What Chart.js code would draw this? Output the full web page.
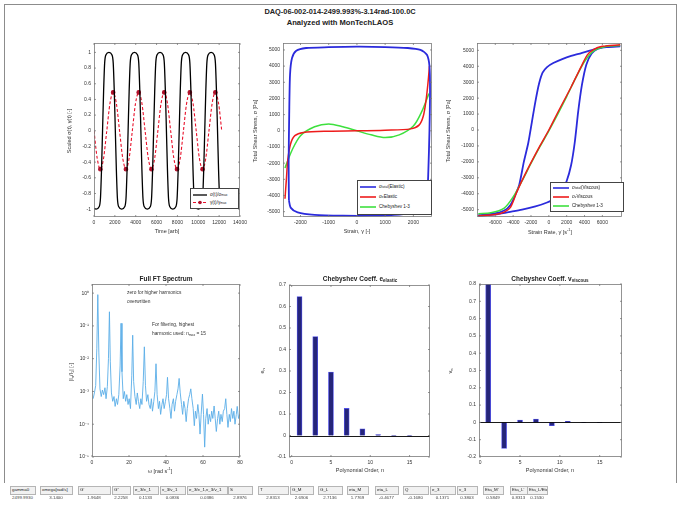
<!DOCTYPE html>
<html>
<head>
<meta charset="utf-8">
<script src="https://cdn.jsdelivr.net/npm/chart.js@4.4.1/dist/chart.umd.min.js"></script>
<style>
  body { margin:0; background:#fff; width:679px; height:506px; position:relative; overflow:hidden;
         font-family:"Liberation Sans", Arial, sans-serif; color:#222; }
  #frame { position:absolute; left:4px; top:4px; width:671px; height:478px; border:1px solid #8c8c8c; border-bottom:none; }
  canvas { position:absolute; }
  .txt { position:absolute; white-space:nowrap; line-height:1; }
  .c { transform:translate(-50%,-50%); }
  .rot { transform:translate(-50%,-50%) rotate(-90deg); }
  .ttl { font-weight:bold; font-size:6.5px; }
  .lab { font-size:5.5px; color:#333; }
  .leg { position:absolute; border:0.8px solid #444; background:#fff; font-size:4.6px; color:#222; }
  .leg .row { position:absolute; left:2px; display:flex; align-items:center; white-space:nowrap; }
  .leg svg { margin-right:3px; }
  sub { font-size:70%; vertical-align:-1px; line-height:0; }
  .cell { position:absolute; font-size:4.4px; white-space:nowrap; overflow:hidden; line-height:1; }
  .hd { border:0.8px solid #b5b5b5; background:#f1f1f1; padding:1px 1px; height:5px; }
</style>
</head>
<body>
<div id="frame"></div>
<div class="txt c ttl" style="left:340px;top:12px;font-size:7.4px">DAQ-06-002-014-2499.993%-3.14rad-100.0C</div>
<div class="txt c ttl" style="left:340px;top:23px;font-size:7.6px">Analyzed with MonTechLAOS</div>

<canvas id="tl"></canvas>
<canvas id="tm"></canvas>
<canvas id="tr"></canvas>
<canvas id="bl"></canvas>
<canvas id="bm"></canvas>
<canvas id="br"></canvas>

<!-- axis titles -->
<div class="txt c lab" style="left:167px;top:232px">Time [arb]</div>
<div class="txt rot lab" style="left:70px;top:131px">Scaled σ(t), γ(t) [-]</div>
<div class="txt c lab" style="left:357px;top:232px">Strain, γ [-]</div>
<div class="txt rot lab" style="left:256px;top:131px">Total Shear Stress, σ [Pa]</div>
<div class="txt c lab" style="left:550px;top:232px">Strain Rate, γ̇ [s<sup style="font-size:70%">-1</sup>]</div>
<div class="txt rot lab" style="left:449px;top:131px">Total Shear Stress, σ [Pa]</div>

<div class="txt c ttl" style="left:166px;top:279px">Full FT Spectrum</div>
<div class="txt c ttl" style="left:360px;top:279px">Chebyshev Coeff. e<sub>elastic</sub></div>
<div class="txt c ttl" style="left:550px;top:279px">Chebyshev Coeff. v<sub>viscous</sub></div>
<div class="txt rot lab" style="left:72px;top:372px">|I<sub>n</sub>/I<sub>1</sub>| [-]</div>
<div class="txt c lab" style="left:160px;top:471px">ω [rad s<sup style="font-size:70%">-1</sup>]</div>
<div class="txt rot lab" style="left:263px;top:371px">e<sub>n</sub></div>
<div class="txt c lab" style="left:360px;top:471px">Polynomial Order, n</div>
<div class="txt rot lab" style="left:451px;top:371px">v<sub>n</sub></div>
<div class="txt c lab" style="left:550px;top:471px">Polynomial Order, n</div>

<!-- annotations in the FT spectrum -->
<div class="txt lab" style="left:127px;top:291px;font-size:4.8px">zero for higher harmonics</div>
<div class="txt lab" style="left:127px;top:300px;font-size:4.8px">overwritten</div>
<div class="txt lab" style="left:152px;top:323px;font-size:4.8px">For filtering, highest</div>
<div class="txt lab" style="left:152px;top:332px;font-size:4.8px">harmonic used: n<sub>max</sub> = 15</div>

<!-- legends -->
<div class="leg" style="left:190px;top:188px;width:47px;height:19px">
  <div class="row" style="top:3px"><svg width="14" height="4"><line x1="0" y1="2" x2="14" y2="2" stroke="#000" stroke-width="1.3"/></svg>σ(t)/σ<sub>max</sub></div>
  <div class="row" style="top:11px"><svg width="14" height="5"><line x1="0" y1="2.5" x2="14" y2="2.5" stroke="#e8102a" stroke-width="1.2" stroke-dasharray="3,2"/><circle cx="7" cy="2.5" r="1.8" fill="#b0102a"/></svg>γ(t)/γ<sub>max</sub></div>
</div>
<div class="leg" style="left:357px;top:180px;width:73px;height:33px">
  <div class="row" style="top:3px"><svg width="16" height="4"><line x1="0" y1="2" x2="16" y2="2" stroke="#2b2bdc" stroke-width="1.6"/></svg>σ<sub>total</sub> (Elastic)</div>
  <div class="row" style="top:13px"><svg width="16" height="4"><line x1="0" y1="2" x2="16" y2="2" stroke="#ee1c1c" stroke-width="1.6"/></svg>σ<sub>e</sub> Elastic</div>
  <div class="row" style="top:23px"><svg width="16" height="4"><line x1="0" y1="2" x2="16" y2="2" stroke="#3ee03e" stroke-width="1.6"/></svg>Chebyshev 1-3</div>
</div>
<div class="leg" style="left:550px;top:182px;width:72px;height:28px">
  <div class="row" style="top:2px"><svg width="16" height="4"><line x1="0" y1="2" x2="16" y2="2" stroke="#2b2bdc" stroke-width="1.6"/></svg>σ<sub>total</sub> (Viscous)</div>
  <div class="row" style="top:11px"><svg width="16" height="4"><line x1="0" y1="2" x2="16" y2="2" stroke="#ee1c1c" stroke-width="1.6"/></svg>σ<sub>v</sub> Viscous</div>
  <div class="row" style="top:20px"><svg width="16" height="4"><line x1="0" y1="2" x2="16" y2="2" stroke="#3ee03e" stroke-width="1.6"/></svg>Chebyshev 1-3</div>
</div>

<div id="table"></div>

<script>
// ---------------------------------------------------------------
//  Dados
// ---------------------------------------------------------------

// painel 1: sinais normalizados no tempo
const timeStress = [0, 208, 490, 620, 720, 820, 920, 1020, 1150, 1432, 1715, 1845, 1945, 2045, 2145, 2245, 2375, 2657,
  2940, 3070, 3170, 3270, 3370, 3470, 3600, 3882, 4165, 4295, 4395, 4495, 4595, 4695, 4825, 5107,
  5390, 5520, 5620, 5720, 5820, 5920, 6050, 6332, 6615, 6745, 6845, 6945, 7045, 7145, 7275, 7557,
  7840, 7970, 8070, 8170, 8270, 8370, 8500, 8782, 9065, 9195, 9295, 9395, 9495, 9595, 9725, 10007,
  10290, 10420, 10520, 10620, 10720, 10820, 10950, 11232, 11515, 11645, 11745, 11845, 11945, 12045, 12175, 12300];
const scaledStress = [-0.99, -1.0, -0.97, -0.86, -0.5, 0, 0.5, 0.86, 0.97, 1.0, 0.97, 0.86, 0.5, 0, -0.5, -0.86, -0.97, -1.0,
  -0.97, -0.86, -0.5, 0, 0.5, 0.86, 0.97, 1.0, 0.97, 0.86, 0.5, 0, -0.5, -0.86, -0.97, -1.0,
  -0.97, -0.86, -0.5, 0, 0.5, 0.86, 0.97, 1.0, 0.97, 0.86, 0.5, 0, -0.5, -0.86, -0.97, -1.0,
  -0.97, -0.86, -0.5, 0, 0.5, 0.86, 0.97, 1.0, 0.97, 0.86, 0.5, 0, -0.5, -0.86, -0.97, -1.0,
  -0.97, -0.86, -0.5, 0, 0.5, 0.86, 0.97, 1.0, 0.97, 0.86, 0.5, 0, -0.5, -0.86, -0.97, -0.99];
const timeStrain = [0, 306, 612, 919, 1225, 1531, 1837, 2144, 2450, 2756, 3062, 3369, 3675, 3981, 4287, 4594,
  4900, 5206, 5512, 5819, 6125, 6431, 6737, 7044, 7350, 7656, 7962, 8269, 8575, 8881, 9187, 9494,
  9800, 10106, 10412, 10719, 11025, 11331, 11637, 11944, 12250];
const scaledStrain = [0, -0.35, -0.49, -0.35, 0, 0.35, 0.49, 0.35, 0, -0.35, -0.49, -0.35, 0, 0.35, 0.49, 0.35,
  0, -0.35, -0.49, -0.35, 0, 0.35, 0.49, 0.35, 0, -0.35, -0.49, -0.35, 0, 0.35, 0.49, 0.35,
  0, -0.35, -0.49, -0.35, 0, 0.35, 0.49, 0.35, 0];

// painel 2: Lissajous elástico (deformação, tensão)
const elStrainTotal = [-2410, -2420, -2400, -2370, -2300, -2150, -1800, -1000, 0, 1000, 1800, 2250, 2480, 2570, 2590,
  2570, 2530, 2490, 2400, 2150, 1500, 500, -500, -1500, -2100, -2350, -2410];
const elStressTotal = [-4300, -2000, 1000, 3500, 4500, 4950, 5120, 5170, 5200, 5180, 5120, 5000, 4700, 4000, 2500,
  0, -2500, -4000, -4650, -5000, -5180, -5250, -5250, -5200, -5050, -4750, -4300];
const elStrainPart = [-2550, -2500, -2450, -2350, -2200, -1900, -1000, 0, 1000, 1900, 2200, 2350, 2450, 2520, 2570];
const elStressPart = [-4200, -3000, -1800, -800, -300, -100, -20, 0, 40, 120, 350, 900, 1900, 3000, 4000];
const elStrainCheb = [-2550, -2300, -2000, -1500, -1000, -500, 0, 500, 1000, 1500, 2000, 2300, 2550];
const elStressCheb = [-2300, -1200, -300, 250, 420, 250, 0, -250, -420, -250, 300, 1200, 2300];

// painel 3: Lissajous viscoso — ramo superior e ramo inferior do laço
const viRateUp = [-7900, -6200, -5000, -4300, -3700, -3300, -2800, -2300, -1900, -1500, -1100, -700, -200, 500, 1500,
  2500, 3500, 4700, 6000, 8000];
const viStressUp = [-5350, -5250, -5050, -4700, -4000, -3400, -2000, -800, 500, 1800, 2900, 3600, 3950, 4200, 4450,
  4650, 4800, 5000, 5200, 5300];
const viRateLow = [-7900, -6000, -4500, -3000, -1500, -200, 700, 1400, 2000, 2500, 2900, 3300, 3700, 4200, 4800,
  5500, 6500, 8000];
const viStressLow = [-5400, -5300, -5150, -5000, -4800, -4550, -4300, -3900, -3200, -2200, -800, 1200, 2800, 4100, 4800,
  5100, 5200, 5250];
const viRatePart = [-7900, -6000, -5000, -4300, -3600, -2500, -1000, 0, 1000, 2500, 3600, 4300, 5000, 6000, 8000];
const viStressPart = [-5400, -5300, -5150, -4850, -3900, -2600, -1000, 0, 1100, 2700, 3950, 4700, 5050, 5250, 5350];
const viRateCheb = [-7900, -6500, -5000, -4000, -3000, -2000, -1000, 0, 1000, 2000, 3000, 4000, 5000, 6500, 8000];
const viStressCheb = [-5250, -5200, -4900, -4200, -3200, -2100, -1050, -50, 1000, 2100, 3250, 4300, 4950, 5250, 5300];

// painel 4: espectro FT
const ftOmega = [0.6, 1.3, 2.0, 2.6, 3.14, 3.7, 4.3, 5.0, 5.6, 6.3, 7.0, 7.6, 8.3, 8.9, 9.42, 9.9, 10.5, 11.2, 11.9,
  12.5, 13.2, 13.8, 14.5, 15.2, 15.7, 16.2, 16.9, 17.5, 18.2, 18.8, 19.5, 20.1, 20.8, 21.5, 22.0, 22.5, 23.2, 23.9,
  24.5, 25.1, 25.8, 26.4, 27.0, 27.7, 28.3, 28.9, 29.5, 30.2, 30.8, 31.5, 32.1, 32.7, 33.4, 34.0, 34.6, 35.2, 35.9,
  36.5, 37.1, 37.8, 38.4, 39.0, 39.7, 40.3, 40.8, 41.4, 42.1, 42.7, 43.3, 44.0, 44.6, 45.2, 45.9, 46.5, 47.1, 47.7,
  48.4, 49.0, 49.6, 50.3, 50.9, 51.5, 52.2, 52.8, 53.4, 54.0, 54.7, 55.3, 55.9, 56.5, 57.2, 57.8, 58.4, 59.0, 59.7,
  60.3, 60.9, 61.5, 62.2, 62.8, 63.4, 64.1, 64.7, 65.3, 66.0, 66.6, 67.2, 67.9, 68.5, 69.1, 69.7, 70.4, 71.0, 71.7,
  72.3, 72.9, 73.5, 74.2, 74.8, 75.4, 76.1, 76.7, 77.3, 78.0, 78.5, 79.2, 79.8];
const ftAmp = [6e-4, 9e-4, 1.5e-3, 0.02, 0.9, 0.015, 1.2e-3, 7e-4, 1.1e-3, 8e-4, 1.3e-3, 6e-4, 1.4e-3, 0.01, 0.27,
  0.008, 9e-4, 5e-4, 7e-4, 3.5e-4, 6e-4, 4e-4, 8e-4, 0.006, 0.12, 0.004, 6e-4, 1.0e-3, 5e-4, 8e-4, 4e-4, 6e-4, 3e-4,
  0.003, 0.052, 0.002, 7e-4, 4e-4, 9e-4, 5e-4, 3e-4, 6e-4, 4e-4, 0.002, 0.023, 0.0015, 5e-4, 8e-4, 4e-4, 3e-4, 6e-4,
  2.5e-4, 5e-4, 0.001, 0.007, 8e-4, 3e-4, 5e-4, 2e-4, 4e-4, 6e-4, 3e-4, 5e-4, 8e-4, 0.0027, 6e-4, 3e-4, 1.5e-4, 4e-4,
  6e-4, 2.5e-4, 5e-4, 8e-4, 1.2e-3, 0.0025, 9e-4, 4e-4, 2e-4, 5e-4, 3e-4, 1.2e-4, 3e-4, 6e-4, 8e-4, 0.0012, 6e-4,
  3e-4, 9e-5, 2.5e-4, 1.5e-4, 4e-4, 2e-4, 5e-5, 2e-4, 8.3e-4, 2e-4, 2e-5, 1.5e-4, 3e-4, 1e-4, 2e-4, 1.2e-4, 2.5e-4,
  1.5e-4, 3.6e-4, 1.5e-4, 6e-5, 1.5e-4, 2.5e-4, 1e-4, 2e-4, 1.2e-4, 2.5e-4, 3e-4, 6e-4, 2e-4, 8e-5, 2e-4, 1.2e-4,
  3e-4, 1.5e-4, 2.5e-4, 1e-4, 2e-4, 3.5e-4, 1.5e-4, 2e-4];

// painéis 5 e 6: coeficientes de Chebyshev
const polyOrder = [1, 3, 5, 7, 9, 11, 13, 15];
const elasticCoeff = [0.646, 0.46, 0.295, 0.126, 0.031, 0.004, -0.003, -0.003];
const viscousCoeff = [0.80, -0.151, 0.014, 0.019, -0.019, 0.006, -0.002, 0.001];

// ticks
const tlXTicks = [0, 2000, 4000, 6000, 8000, 10000, 12000, 14000];
const tlYTicks = [-1, -0.8, -0.6, -0.4, -0.2, 0, 0.2, 0.4, 0.6, 0.8, 1];
const tmXTicks = [-2000, -1000, 0, 1000, 2000];
const stressTicks = [-5000, -4000, -3000, -2000, -1000, 0, 1000, 2000, 3000, 4000, 5000];
const trXTicks = [-6000, -4000, -2000, 0, 2000, 4000, 6000];
const ftXTicks = [0, 20, 40, 60, 80];
const ftYTicks = [1e-5, 1e-4, 1e-3, 1e-2, 1e-1, 1];
const ftYLabels = ['10⁻⁵', '10⁻⁴', '10⁻³', '10⁻²', '10⁻¹', '10⁰'];
const polyTicks = [0, 5, 10, 15];
const eTicks = [-0.1, 0, 0.1, 0.2, 0.3, 0.4, 0.5, 0.6, 0.7];
const vTicks = [-0.2, -0.1, 0, 0.1, 0.2, 0.3, 0.4, 0.5, 0.6, 0.7, 0.8];

// tabela de resultados
const tableHeads = ['gamma0', 'omega[rad/s]', "G'", "G''", 'e_3/e_1', 'v_3/v_1', 'e_3/e_1,v_3/v_1', 'S', 'T',
  'G_M', 'G_L', 'eta_M', 'eta_L', 'Q', 'e_3', 'v_3', "Eta_M'", "Eta_L'", 'Eta_L/Eta_M'];
const tableVals = ['2499.9930', '3.1400', '1.9648', '2.2258', '0.1133', '0.0836', '0.0386', '2.8976', '2.8313',
  '2.6906', '2.7136', '1.7769', '-0.4677', '-0.1680', '0.1371', '0.3803', '0.5849', '0.8313', '0.1530'];
const tableCols = [[10, 25], [40, 32], [78, 32], [112, 18], [133, 25], [160, 25], [187, 40], [228, 24], [258, 30],
  [290, 23], [318, 24], [347, 21], [375, 23], [403, 25], [430, 25], [457, 20], [483, 20], [510, 17], [527, 20]];

// ---------------------------------------------------------------
//  Estilo
// ---------------------------------------------------------------
const FONT = "'Liberation Sans', Arial, sans-serif";
const BLUE = '#2b2bdc', RED = '#ee1c1c', GREEN = '#3ee03e';
const PAD_T = 8, PAD_R = 14, Y_W = 32, X_H = 14;

// caixa estilo MATLAB com ticks internos (+ linha do zero nas barras)
const boxPlugin = {
  id: 'mbox',
  afterDraw(chart, args, opts) {
    const { ctx, chartArea: a, scales } = chart;
    ctx.save();
    if (opts.zero) {
      const y0 = Math.round(scales.y.getPixelForValue(0)) + 0.5;
      ctx.strokeStyle = '#000'; ctx.lineWidth = 0.9;
      ctx.beginPath(); ctx.moveTo(a.left, y0); ctx.lineTo(a.right, y0); ctx.stroke();
    }
    ctx.strokeStyle = '#7a7a7a'; ctx.lineWidth = 0.8;
    ctx.strokeRect(a.left + 0.5, a.top + 0.5, a.width - 1, a.height - 1);
    ctx.beginPath();
    scales.x.ticks.forEach(t => {
      const p = scales.x.getPixelForValue(t.value);
      ctx.moveTo(p, a.bottom); ctx.lineTo(p, a.bottom - 2);
      ctx.moveTo(p, a.top); ctx.lineTo(p, a.top + 2);
    });
    scales.y.ticks.forEach(t => {
      const p = scales.y.getPixelForValue(t.value);
      ctx.moveTo(a.left, p); ctx.lineTo(a.left + 2, p);
      ctx.moveTo(a.right, p); ctx.lineTo(a.right - 2, p);
    });
    ctx.stroke();
    ctx.restore();
  }
};

function axis(min, max, tickVals, labels, extra = {}) {
  return Object.assign({
    type: 'linear', min, max, offset: false,
    grid: { display: false, drawTicks: false },
    border: { display: false },
    ticks: {
      font: { size: 5, family: FONT }, color: '#333', padding: 3,
      maxRotation: 0, autoSkip: false,
      callback: (v, i) => labels ? labels[i] : String(v)
    },
    afterBuildTicks: s => { s.ticks = tickVals.map(v => ({ value: v })); }
  }, extra);
}

function fitX(s) { s.height = X_H; s.paddingLeft = s.paddingRight = 0; }
function fitY(s) { s.width = Y_W; s.paddingTop = s.paddingBottom = 0; }

function makeChart(id, box, type, datasets, xAxis, yAxis, zero) {
  const c = document.getElementById(id);
  const w = (box.r - box.l) + Y_W + PAD_R;
  const h = (box.b - box.t) + PAD_T + X_H;
  c.width = w; c.height = h;
  c.style.left = (box.l - Y_W) + 'px';
  c.style.top = (box.t - PAD_T) + 'px';
  c.style.width = w + 'px'; c.style.height = h + 'px';
  xAxis.afterFit = fitX; yAxis.afterFit = fitY;
  return new Chart(c.getContext('2d'), {
    type,
    data: { datasets },
    options: {
      responsive: false, animation: false, devicePixelRatio: 1,
      layout: { autoPadding: false, padding: { top: PAD_T, right: PAD_R, left: 0, bottom: 0 } },
      plugins: { legend: { display: false }, tooltip: { enabled: false }, mbox: { zero: !!zero } },
      scales: { x: xAxis, y: yAxis }
    },
    plugins: [boxPlugin]
  });
}

const pts = (xs, ys) => xs.map((x, i) => ({ x, y: ys[i] }));

function lineSet(xs, ys, color, width, extra = {}) {
  return Object.assign({
    data: pts(xs, ys), showLine: true, borderColor: color, borderWidth: width,
    pointRadius: 0, fill: false, tension: 0.3
  }, extra);
}

// painel 1
makeChart('tl', { l: 94, t: 43, r: 240, b: 217 }, 'scatter', [
  lineSet(timeStress, scaledStress, '#000', 1.3, { tension: 0, cubicInterpolationMode: 'monotone' }),
  lineSet(timeStrain, scaledStrain, '#e8102a', 1.1, {
    tension: 0, cubicInterpolationMode: 'monotone', borderDash: [3, 2],
    pointRadius: ctx => Math.abs(ctx.raw.y) > 0.45 ? 1.8 : 0,
    pointBackgroundColor: '#b0102a', pointBorderColor: '#b0102a'
  })
], axis(0, 14000, tlXTicks), axis(-1.1, 1.12, tlYTicks));

// painel 2
makeChart('tm', { l: 283, t: 43, r: 432, b: 217 }, 'scatter', [
  lineSet(elStrainTotal, elStressTotal, BLUE, 1.8, { tension: 0.25 }),
  lineSet(elStrainPart, elStressPart, RED, 1.5),
  lineSet(elStrainCheb, elStressCheb, GREEN, 1.5)
], axis(-2620, 2660, tmXTicks), axis(-5330, 5430, stressTicks));

// painel 3
makeChart('tr', { l: 477, t: 43, r: 622, b: 217 }, 'scatter', [
  lineSet(viRatePart, viStressPart, RED, 1.5),
  lineSet(viRateCheb, viStressCheb, GREEN, 1.5),
  lineSet(viRateUp, viStressUp, BLUE, 1.8, { tension: 0.25 }),
  lineSet(viRateLow, viStressLow, BLUE, 1.8, { tension: 0.25 })
], axis(-8050, 8200, trXTicks), axis(-5460, 5460, stressTicks));

// painel 4
makeChart('bl', { l: 92, t: 284, r: 240, b: 457 }, 'scatter', [
  lineSet(ftOmega, ftAmp, '#5aaee8', 0.9, { tension: 0 })
], axis(0, 80, ftXTicks), axis(1e-5, 1.9, ftYTicks, ftYLabels, { type: 'logarithmic' }));

// painéis 5 e 6
const barSet = vals => ({
  data: pts(polyOrder, vals), backgroundColor: '#25257a', borderColor: '#5050e8',
  borderWidth: 0.8, barThickness: 5
});
makeChart('bm', { l: 289, t: 285, r: 430, b: 457 }, 'bar', [barSet(elasticCoeff)],
  axis(-0.34, 17.6, polyTicks), axis(-0.1, 0.7, eTicks), true);
makeChart('br', { l: 479, t: 284, r: 622, b: 457 }, 'bar', [barSet(viscousCoeff)],
  axis(-0.15, 17.8, polyTicks), axis(-0.2, 0.8, vTicks), true);

// tabela
const tbl = document.getElementById('table');
tableCols.forEach(([left, width], i) => {
  const h = document.createElement('div');
  h.className = 'cell hd';
  h.style.left = left + 'px'; h.style.top = '486px'; h.style.width = (width - 3) + 'px';
  h.textContent = tableHeads[i];
  tbl.appendChild(h);
  const v = document.createElement('div');
  v.className = 'cell';
  v.style.left = left + 'px'; v.style.top = '496px'; v.style.width = width + 'px';
  v.style.textAlign = 'center'; v.style.color = '#444';
  v.textContent = tableVals[i];
  tbl.appendChild(v);
});
</script>
</body>
</html>
